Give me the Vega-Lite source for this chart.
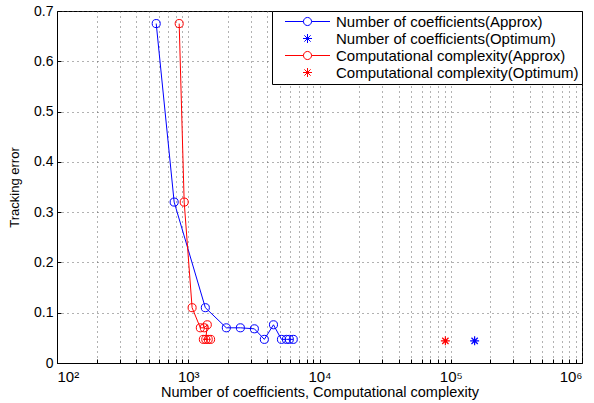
{
  "$schema": "https://vega.github.io/schema/vega-lite/v6.json",
  "width": 525,
  "height": 352,
  "autosize": "none",
  "padding": {"left": 57, "top": 11, "right": 12, "bottom": 40},
  "background": "white",
  "config": {
    "view": {"stroke": "#000", "strokeWidth": 1},
    "font": "Liberation Sans",
    "axis": {
      "domainColor": "#000",
      "tickColor": "#000",
      "labelColor": "#000",
      "titleColor": "#000",
      "labelFont": "Liberation Sans",
      "titleFont": "Liberation Sans",
      "titleFontWeight": "normal",
      "gridColor": "#555",
      "gridDash": [1, 4],
      "gridWidth": 1,
      "gridOpacity": 0.9
    }
  },
  "data": {
    "values": [
      {"s": "Number of coefficients(Approx)", "i": 1, "x": 570, "y": 0.675},
      {"s": "Number of coefficients(Approx)", "i": 2, "x": 781, "y": 0.32},
      {"s": "Number of coefficients(Approx)", "i": 3, "x": 1349, "y": 0.11},
      {"s": "Number of coefficients(Approx)", "i": 4, "x": 1950, "y": 0.07},
      {"s": "Number of coefficients(Approx)", "i": 5, "x": 2495, "y": 0.07},
      {"s": "Number of coefficients(Approx)", "i": 6, "x": 3190, "y": 0.068},
      {"s": "Number of coefficients(Approx)", "i": 7, "x": 3800, "y": 0.047},
      {"s": "Number of coefficients(Approx)", "i": 8, "x": 4460, "y": 0.076},
      {"s": "Number of coefficients(Approx)", "i": 9, "x": 5130, "y": 0.047},
      {"s": "Number of coefficients(Approx)", "i": 10, "x": 5600, "y": 0.047},
      {"s": "Number of coefficients(Approx)", "i": 11, "x": 5890, "y": 0.047},
      {"s": "Number of coefficients(Approx)", "i": 12, "x": 6310, "y": 0.047},
      {"s": "Computational complexity(Approx)", "i": 1, "x": 853, "y": 0.675},
      {"s": "Computational complexity(Approx)", "i": 2, "x": 931, "y": 0.32},
      {"s": "Computational complexity(Approx)", "i": 3, "x": 1070, "y": 0.11},
      {"s": "Computational complexity(Approx)", "i": 4, "x": 1236, "y": 0.07},
      {"s": "Computational complexity(Approx)", "i": 5, "x": 1325, "y": 0.07},
      {"s": "Computational complexity(Approx)", "i": 6, "x": 1397, "y": 0.076},
      {"s": "Computational complexity(Approx)", "i": 7, "x": 1360, "y": 0.047},
      {"s": "Computational complexity(Approx)", "i": 8, "x": 1303, "y": 0.047},
      {"s": "Computational complexity(Approx)", "i": 9, "x": 1420, "y": 0.047},
      {"s": "Computational complexity(Approx)", "i": 10, "x": 1480, "y": 0.047},
      {"s": "Number of coefficients(Optimum)", "i": 1, "x": 152000, "y": 0.044},
      {"s": "Computational complexity(Optimum)", "i": 1, "x": 91000, "y": 0.044}
    ]
  },
  "encoding": {
    "x": {
      "field": "x",
      "type": "quantitative",
      "scale": {"type": "log", "domain": [100, 1000000], "nice": false},
      "axis": {
        "title": "Number of coefficients, Computational complexity",
        "titleFontSize": 14.5,
        "titlePadding": 1,
        "labelFontSize": 15,
        "labelPadding": 10,
        "tickSize": -4,
        "labelOverlap": false,
        "labelBound": false,
        "values": [100, 200, 300, 400, 500, 600, 700, 800, 900, 1000, 2000, 3000, 4000, 5000, 6000, 7000, 8000, 9000, 10000, 20000, 30000, 40000, 50000, 60000, 70000, 80000, 90000, 100000, 200000, 300000, 400000, 500000, 600000, 700000, 800000, 900000, 1000000],
        "labelExpr": "datum.value == 100 ? '10²' : datum.value == 1000 ? '10³' : datum.value == 10000 ? '10⁴' : datum.value == 100000 ? '10⁵' : datum.value == 1000000 ? '10⁶' : ''"
      }
    },
    "y": {
      "field": "y",
      "type": "quantitative",
      "scale": {"domain": [0, 0.7], "nice": false},
      "axis": {
        "title": "Tracking error",
        "titleFontSize": 13,
        "titlePadding": 12,
        "labelFontSize": 14,
        "labelPadding": 8,
        "tickSize": -4,
        "values": [0, 0.1, 0.2, 0.3, 0.4, 0.5, 0.6, 0.7],
        "format": ".1~f"
      }
    }
  },
  "layer": [
    {
      "transform": [{"filter": "indexof(datum.s, 'Approx') >= 0"}],
      "mark": {"type": "line", "strokeWidth": 1},
      "encoding": {
        "order": {"field": "i", "type": "quantitative"},
        "stroke": {
          "field": "s",
          "type": "nominal",
          "scale": {"domain": ["Number of coefficients(Approx)", "Computational complexity(Approx)"], "range": ["#0000ff", "#ff0000"]},
          "legend": null
        }
      }
    },
    {
      "transform": [{"filter": "indexof(datum.s, 'Approx') >= 0"}],
      "mark": {"type": "point", "shape": "circle", "filled": false, "size": 65, "strokeWidth": 1, "opacity": 1},
      "encoding": {
        "stroke": {
          "field": "s",
          "type": "nominal",
          "scale": {"domain": ["Number of coefficients(Approx)", "Computational complexity(Approx)"], "range": ["#0000ff", "#ff0000"]},
          "legend": null
        }
      }
    },
    {
      "transform": [{"filter": "indexof(datum.s, 'Optimum') >= 0"}],
      "mark": {"type": "point", "shape": "M-1,0H1M0,-1V1M-0.7,-0.7L0.7,0.7M-0.7,0.7L0.7,-0.7", "filled": false, "size": 81, "strokeWidth": 1.2, "opacity": 1},
      "encoding": {
        "stroke": {
          "field": "s",
          "type": "nominal",
          "scale": {"domain": ["Number of coefficients(Optimum)", "Computational complexity(Optimum)"], "range": ["#0000ff", "#ff0000"]},
          "legend": null
        }
      }
    },
    {
      "mark": {"type": "point", "filled": false, "size": 81, "opacity": 0, "strokeWidth": 1},
      "encoding": {
        "color": {
          "field": "s",
          "type": "nominal",
          "scale": {
            "domain": ["Number of coefficients(Approx)", "Number of coefficients(Optimum)", "Computational complexity(Approx)", "Computational complexity(Optimum)"],
            "range": ["#0000ff", "#0000ff", "#ff0000", "#ff0000"]
          },
          "legend": {
            "title": null,
            "orient": "top-right",
            "offset": 0,
            "padding": 3,
            "strokeColor": "#000",
            "fillColor": "#fff",
            "labelFont": "Liberation Sans",
            "labelFontSize": 15,
            "labelColor": "#000",
            "labelLimit": 400,
            "rowPadding": 1,
            "symbolOffset": 25,
            "labelOffset": 21,
            "symbolSize": 81,
            "symbolStrokeWidth": 1,
            "encode": {
              "symbols": {"update": {"opacity": {"value": 1}}},
              "legend": {"update": {"strokeWidth": {"value": 1.5}}}
            }
          }
        },
        "shape": {
          "field": "s",
          "type": "nominal",
          "scale": {
            "domain": ["Number of coefficients(Approx)", "Number of coefficients(Optimum)", "Computational complexity(Approx)", "Computational complexity(Optimum)"],
            "range": [
              "M-5.0,0H-0.9M0.9,0H5.0M-0.9,0A0.9,0.9 0 1,1 0.9,0A0.9,0.9 0 1,1 -0.9,0",
              "M-1,0H1M0,-1V1M-0.7,-0.7L0.7,0.7M-0.7,0.7L0.7,-0.7",
              "M-5.0,0H-0.9M0.9,0H5.0M-0.9,0A0.9,0.9 0 1,1 0.9,0A0.9,0.9 0 1,1 -0.9,0",
              "M-1,0H1M0,-1V1M-0.7,-0.7L0.7,0.7M-0.7,0.7L0.7,-0.7"
            ]
          },
          "legend": {"title": null}
        }
      }
    }
  ]
}
